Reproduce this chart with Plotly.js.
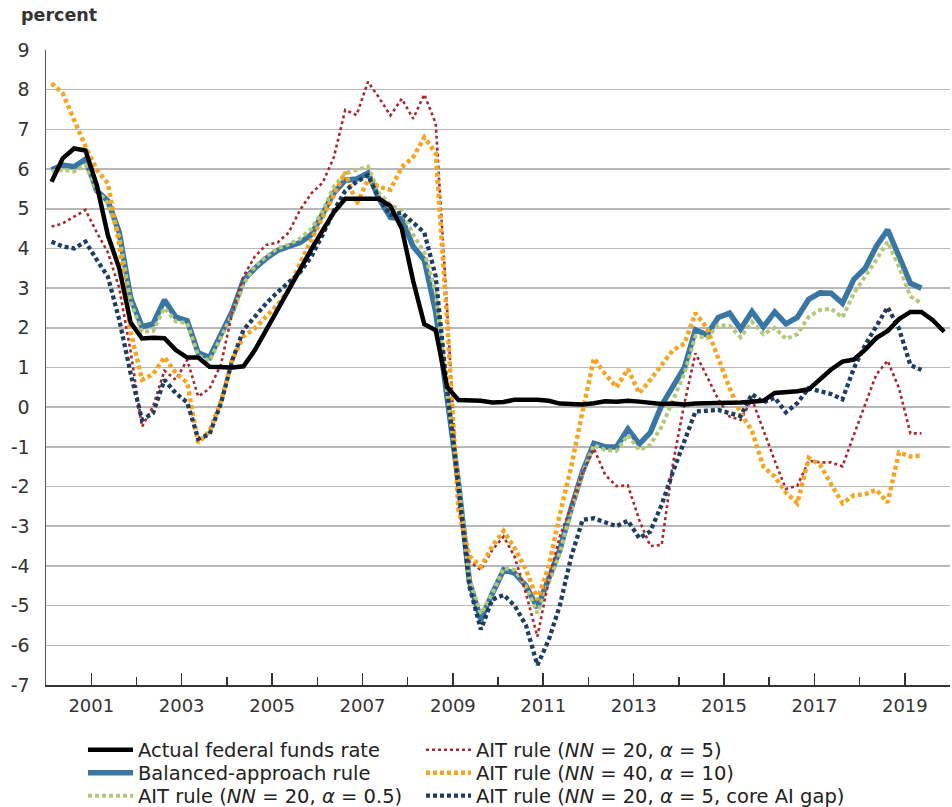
<!DOCTYPE html>
<html>
<head>
<meta charset="utf-8">
<script src="https://cdn.plot.ly/plotly-3.0.1.min.js"></script>
<style>
html,body{margin:0;padding:0;background:#fff;}
#chart{width:952px;height:807px;}
</style>
</head>
<body>
<div id="chart"></div>
<script>
// Quarterly observations, 2000Q1 .. 2019Q4
const startYear = 2000;
const quarterCount = 80;

// Actual federal funds rate (2000Q1-2019Q4)
const fedFunds = [
  5.68, 6.27, 6.52, 6.47,  5.59, 4.33, 3.50, 2.13,  1.73, 1.75, 1.74, 1.44,
  1.25, 1.25, 1.02, 1.00,  1.00, 1.03, 1.44, 1.95,  2.47, 2.94, 3.46, 3.98,
  4.46, 4.91, 5.25, 5.25,  5.26, 5.25, 5.07, 4.50,  3.18, 2.09, 1.94, 0.51,
  0.18, 0.18, 0.16, 0.12,  0.13, 0.19, 0.19, 0.19,  0.16, 0.09, 0.08, 0.07,
  0.10, 0.15, 0.14, 0.16,  0.14, 0.12, 0.08, 0.09,  0.07, 0.09, 0.09, 0.10,
  0.11, 0.12, 0.13, 0.16,  0.36, 0.37, 0.40, 0.45,  0.70, 0.95, 1.15, 1.20,
  1.45, 1.74, 1.92, 2.22,  2.40, 2.40, 2.19, 1.90
];

// Balanced-approach rule (2000Q1-2019Q2)
const balanced = [
  5.98, 6.10, 6.06, 6.25,  5.45, 5.20, 4.40, 2.75,  2.03, 2.10, 2.70, 2.27,
  2.18, 1.37, 1.25, 1.80,  2.42, 3.20, 3.50, 3.75,  3.95, 4.05, 4.15, 4.35,
  4.85, 5.40, 5.72, 5.75,  5.90, 5.25, 4.78, 4.75,  4.05, 3.71, 2.40, 0.35,
  -1.90, -4.40, -5.36, -4.70,  -4.10, -4.18, -4.50, -5.05,  -4.35, -3.60, -2.55, -1.62,
  -0.91, -1.00, -1.00, -0.55,  -0.93, -0.64, 0.05, 0.56,  1.00, 1.95, 1.82, 2.26,
  2.37, 1.97, 2.41, 2.02,  2.40, 2.10, 2.26, 2.72,  2.88, 2.87, 2.62, 3.22,
  3.50, 4.05, 4.47, 3.80,  3.12, 3.00
];

// AIT rule (NN = 20, alpha = 0.5)
const aitNN20a05 = [
  5.94, 5.98, 5.94, 6.10,  5.47, 5.14, 4.30, 2.65,  1.90, 1.92, 2.50, 2.16,
  2.12, 1.30, 1.17, 1.74,  2.35, 3.10, 3.55, 3.80,  4.00, 4.10, 4.25, 4.50,
  4.95, 5.56, 5.89, 5.98,  6.06, 5.40, 5.10, 4.95,  4.35, 3.90, 2.90, 0.40,
  -1.85, -4.35, -5.20, -4.70,  -4.06, -4.10, -4.52, -5.19,  -4.43, -3.68, -2.60, -1.66,
  -0.95, -1.08, -1.10, -0.70,  -1.08, -0.95, -0.49, 0.18,  0.85, 1.80, 1.74, 2.07,
  2.05, 1.76, 2.15, 1.84,  2.00, 1.72, 1.84, 2.28,  2.45, 2.48, 2.26, 2.87,
  3.29, 3.71, 4.17, 3.54,  2.79, 2.62
];

// AIT rule (NN = 20, alpha = 5)
const aitNN20a5 = [
  4.55, 4.63, 4.80, 4.97,  4.40, 3.90, 3.00, 1.40,  -0.49, 0.02, 0.92, 0.69,
  1.19, 0.27, 0.47, 1.08,  2.40, 3.30, 3.80, 4.09,  4.15, 4.40, 4.97, 5.39,
  5.66, 6.30, 7.49, 7.36,  8.20, 7.80, 7.35, 7.77,  7.27, 7.88, 7.15, 2.50,
  -2.50, -3.89, -4.10, -3.60,  -3.26, -3.77, -4.70, -5.78,  -4.35, -3.26, -2.50, -1.66,
  -1.05, -1.70, -1.99, -1.97,  -2.84, -3.50, -3.47, -1.40,  0.10, 1.36, 0.78, 0.20,
  -0.24, -0.32, 0.20, -0.60,  -1.35, -2.06, -1.98, -1.35,  -1.39, -1.39, -1.49, -0.70,
  0.10, 0.82, 1.17, 0.48,  -0.66, -0.66
];

// AIT rule (NN = 40, alpha = 10)
const aitNN40a10 = [
  8.16, 7.91, 7.24, 6.57,  5.98, 5.64, 4.10, 1.90,  0.69, 0.83, 1.26, 0.86,
  0.62, -0.90, -0.60, 0.15,  1.20, 1.78, 1.99, 2.28,  2.58, 2.96, 3.63, 4.22,
  4.80, 5.39, 5.92, 5.12,  5.73, 5.55, 5.48, 6.05,  6.30, 6.80, 6.40, 2.20,
  -2.60, -3.75, -4.02, -3.50,  -3.12, -3.55, -4.10, -4.85,  -4.00, -2.70, -1.50, -0.10,
  1.23, 0.84, 0.50, 0.96,  0.35, 0.69, 1.07, 1.44,  1.60, 2.37, 2.00, 1.22,
  0.48, -0.15, -0.60, -1.50,  -1.75, -2.15, -2.42, -1.28,  -1.45, -1.94, -2.42, -2.22,
  -2.19, -2.08, -2.40, -1.14,  -1.24, -1.22
];

// AIT rule (NN = 20, alpha = 5, core AI gap)
const aitCoreGap = [
  4.17, 4.05, 4.00, 4.17,  3.71, 3.29, 2.20, 0.85,  -0.32, -0.15, 0.69, 0.35,
  0.12, -0.80, -0.68, 0.10,  1.19, 1.95, 2.28, 2.62,  2.90, 3.15, 3.40, 3.80,
  4.35, 4.95, 5.45, 5.68,  5.85, 5.25, 4.85, 4.90,  4.65, 4.40, 3.30, 0.45,
  -2.00, -4.52, -5.60, -4.85,  -4.73, -5.00, -5.50, -6.50,  -5.86, -5.00, -3.77, -2.84,
  -2.80, -2.90, -3.00, -2.86,  -3.30, -3.13, -2.46, -1.62,  -0.85, -0.11, -0.09, -0.07,
  -0.15, -0.22, 0.33, 0.12,  0.24, -0.13, 0.10, 0.48,  0.40, 0.33, 0.20, 0.98,
  1.57, 2.03, 2.52, 1.98,  1.06, 0.94
];

const yTickVals = [-7,-6,-5,-4,-3,-2,-1,0,1,2,3,4,5,6,7,8,9];
const yTickText = ['-7','-6','-5','-4','-3','-2','-1','0','1','2','3','4','5','6','7','8','9'];

const seriesNames = {
  ffr: 'Actual federal funds rate',
  bal: 'Balanced-approach rule',
  a05: 'AIT rule (<i>NN</i> = 20, <i>α</i> = 0.5)',
  a5: 'AIT rule (<i>NN</i> = 20, <i>α</i> = 5)',
  a10: 'AIT rule (<i>NN</i> = 40, <i>α</i> = 10)',
  core: 'AIT rule (<i>NN</i> = 20, <i>α</i> = 5, core AI gap)'
};

// mid-quarter dates
const midMonths = ['02','05','08','11'];
const dates = [];
for (let i = 0; i < quarterCount; i++) {
  const y = startYear + Math.floor(i / 4);
  dates.push(y + '-' + midMonths[i % 4] + '-15');
}
const d = arr => dates.slice(0, arr.length);

const traces = [
  {x: d(balanced), y: balanced, name: seriesNames.bal, mode: 'lines', legend: 'legend3',
   line: {color: '#3a76a3', width: 5.5}},
  {x: d(aitNN20a05), y: aitNN20a05, name: seriesNames.a05, mode: 'lines', legend: 'legend5',
   line: {color: '#b3c97a', width: 4, dash: '4px,3px'}},
  {x: d(aitNN20a5), y: aitNN20a5, name: seriesNames.a5, mode: 'lines', legend: 'legend2',
   line: {color: '#a72a30', width: 2.6, dash: '3px,3px'}},
  {x: d(aitNN40a10), y: aitNN40a10, name: seriesNames.a10, mode: 'lines', legend: 'legend4',
   line: {color: '#f4a623', width: 4.5, dash: '4px,3px'}},
  {x: d(aitCoreGap), y: aitCoreGap, name: seriesNames.core, mode: 'lines', legend: 'legend6',
   line: {color: '#1f3c63', width: 4.3, dash: '4px,3px'}},
  {x: d(fedFunds), y: fedFunds, name: seriesNames.ffr, mode: 'lines', legend: 'legend',
   line: {color: '#000000', width: 4.5}}
];

const fontFam = 'DejaVu Sans, Open Sans, Arial, sans-serif';
function legendBox(xPaper, yPaper) {
  return {
    orientation: 'h', x: xPaper, xanchor: 'left', y: yPaper, yanchor: 'middle',
    itemwidth: 45,
    font: {family: fontFam, size: 19.5, color: '#222'},
    bgcolor: 'rgba(0,0,0,0)', borderwidth: 0
  };
}
const colX = [0.0409, 0.4148];
const rowY = [-0.1024, -0.1386, -0.1748];

const layout = {
  width: 952, height: 807,
  margin: {l: 46, r: 2, t: 50, b: 122, pad: 0, autoexpand: false},
  paper_bgcolor: '#ffffff', plot_bgcolor: '#ffffff',
  font: {family: fontFam, size: 19, color: '#333'},
  showlegend: true,
  xaxis: {
    type: 'date', range: ['2000-01-01', '2020-01-01'],
    tick0: '2001-01-01', dtick: 'M24', tickformat: '%Y',
    ticks: 'inside', ticklen: 12, tickwidth: 1.5, tickcolor: '#333',
    minor: {tick0: '2000-01-01', dtick: 'M12', ticks: 'inside', ticklen: 8, tickwidth: 1.5, tickcolor: '#333', showgrid: false},
    showgrid: false, zeroline: false,
    showline: true, linecolor: '#333', linewidth: 2,
    tickfont: {family: fontFam, size: 18, color: '#333'},
    ticklabelstandoff: 3, fixedrange: true
  },
  yaxis: {
    range: [-7, 9], tickmode: 'array', tickvals: yTickVals, ticktext: yTickText,
    showgrid: true, gridcolor: '#b8b8b8', gridwidth: 1.6,
    zeroline: false, ticks: '', showline: true, linecolor: '#555', linewidth: 1.5,
    tickfont: {family: fontFam, size: 19, color: '#333'},
    ticklabelstandoff: 11, fixedrange: true
  },
  legend:  legendBox(colX[0], rowY[0]),
  legend2: legendBox(colX[1], rowY[0]),
  legend3: legendBox(colX[0], rowY[1]),
  legend4: legendBox(colX[1], rowY[1]),
  legend5: legendBox(colX[0], rowY[2]),
  legend6: legendBox(colX[1], rowY[2]),
  annotations: [{
    text: '<b>percent</b>', xref: 'paper', yref: 'paper',
    x: -0.0299, y: 1.0551, xanchor: 'left', yanchor: 'middle', showarrow: false,
    font: {family: fontFam, size: 17.5, color: '#333'}
  }]
};

Plotly.newPlot('chart', traces, layout, {displayModeBar: false, staticPlot: true});
</script>
</body>
</html>
